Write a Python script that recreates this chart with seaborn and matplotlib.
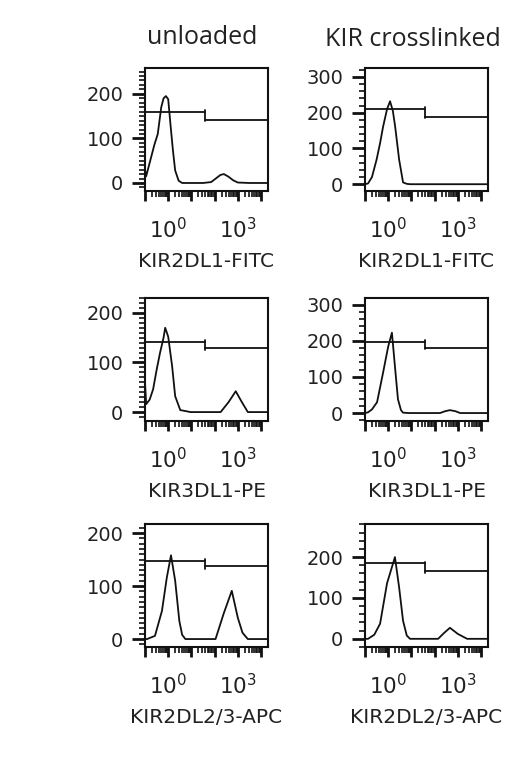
import numpy as np
import pandas as pd
import seaborn as sns
import matplotlib.pyplot as plt
from matplotlib.ticker import FixedLocator, NullFormatter, MultipleLocator

# column titles and marker names
conditions = ["unloaded", "KIR crosslinked"]
markers = ["KIR2DL1-FITC", "KIR3DL1-PE", "KIR2DL2/3-APC"]

# histogram curves: x in decades (log10), y = cell count
fitc_unl_x = [-1.0, -0.95, -0.8, -0.6, -0.45, -0.3, -0.2, -0.1, 0.0, 0.1, 0.2, 0.3, 0.45, 0.6, 1.0, 1.5, 1.85, 2.05, 2.25, 2.4, 2.6, 2.8, 3.0, 3.5, 4.3]
fitc_unl_y = [30, 15, 45, 85, 110, 170, 190, 195, 188, 130, 75, 28, 5, 0, 0, 0, 2, 10, 18, 20, 14, 6, 1, 0, 0]
fitc_xl_x = [-1.0, -0.87, -0.7, -0.5, -0.35, -0.22, -0.05, 0.08, 0.2, 0.3, 0.47, 0.64, 0.8, 0.94, 1.5, 2.5, 4.3]
fitc_xl_y = [0, 2, 20, 69, 115, 161, 210, 232, 205, 161, 69, 5, 1, 0, 0, 0, 0]
pe_unl_x = [-1.0, -0.95, -0.8, -0.65, -0.5, -0.35, -0.2, -0.13, 0.0, 0.17, 0.3, 0.52, 0.75, 0.96, 1.5, 2.26, 2.6, 2.91, 3.15, 3.43, 4.3]
pe_unl_y = [60, 16, 25, 46, 85, 120, 150, 170, 152, 92, 32, 4, 2, 0, 0, 0, 20, 42, 22, 0, 0]
pe_xl_x = [-1.0, -0.87, -0.7, -0.48, -0.22, 0.0, 0.16, 0.29, 0.42, 0.55, 0.64, 0.9, 1.5, 2.23, 2.45, 2.66, 2.9, 3.1, 4.3]
pe_xl_y = [0, 2, 10, 30, 112, 184, 222, 129, 38, 8, 1, 0, 0, 0, 5, 8, 5, 0, 0]
apc_unl_x = [-1.0, -0.91, -0.57, -0.27, -0.06, 0.12, 0.3, 0.48, 0.6, 0.74, 1.5, 2.04, 2.39, 2.74, 3.0, 3.2, 3.43, 4.3]
apc_unl_y = [0, 0, 6, 53, 116, 158, 110, 34, 8, 0, 0, 0, 48, 91, 40, 12, 0, 0]
apc_xl_x = [-1.0, -0.87, -0.6, -0.35, -0.05, 0.29, 0.47, 0.64, 0.8, 0.94, 1.5, 2.15, 2.4, 2.66, 3.0, 3.4, 4.3]
apc_xl_y = [0, 0, 10, 37, 136, 200, 126, 44, 8, 0, 0, 0, 14, 27, 12, 0, 0]

# marker gate heights (left region, right region)
gate_split = 1.6
gate_unl = [(160, 142), (142, 130), (147, 137)]
gate_xl = [(211, 189), (197, 181), (185, 165)]

# y ranges per panel
ylims_unl = [(-18, 258), (-18, 230), (-15, 217)]
ylims_xl = [(-19, 325), (-22, 318), (-20, 281)]

curves = {
    (0, 0): (fitc_unl_x, fitc_unl_y), (0, 1): (fitc_xl_x, fitc_xl_y),
    (1, 0): (pe_unl_x, pe_unl_y), (1, 1): (pe_xl_x, pe_xl_y),
    (2, 0): (apc_unl_x, apc_unl_y), (2, 1): (apc_xl_x, apc_xl_y),
}

sns.set_theme(style="ticks")
plt.rcParams['font.family'] = ['DejaVu Sans']
plt.rcParams['mathtext.default'] = 'regular'

fig = plt.figure(figsize=(5.2, 7.64), dpi=100)

lefts = [145 / 520, 365 / 520]
width = 123 / 520
tops = [68, 298, 524]
height = 123 / 764

for r in range(3):
    for c in range(2):
        ax = fig.add_axes([lefts[c], 1 - (tops[r] + 123) / 764, width, height])
        xs, ys = curves[(r, c)]
        df = pd.DataFrame({"x": 10 ** np.array(xs), "y": ys})
        sns.lineplot(data=df, x="x", y="y", ax=ax, color="#111111", linewidth=1.3)
        ax.set_xscale("log")
        ax.set_xlim(10 ** -1.0, 10 ** 4.3)
        ylim = ylims_unl[r] if c == 0 else ylims_xl[r]
        ax.set_ylim(*ylim)

        # gates
        g = gate_unl[r] if c == 0 else gate_xl[r]
        split = 10 ** gate_split
        ax.plot([10 ** -1.0, split], [g[0], g[0]], color="#111111", lw=1.3)
        ax.plot([split, 10 ** 4.3], [g[1], g[1]], color="#111111", lw=1.3)
        ax.plot([split, split], [g[0] + 4, g[1] - 4], color="#111111", lw=1.3)

        ax.set_xticks([0.1, 1, 10, 100, 1000, 10000])
        ax.set_xticklabels(["", "$10^0$", "", "", "$10^3$", ""])
        ax.xaxis.set_minor_locator(FixedLocator(
            [m * 10.0 ** d for d in range(-1, 5) for m in range(2, 10) if m * 10.0 ** d < 10 ** 4.3]))
        ax.xaxis.set_minor_formatter(NullFormatter())
        ax.yaxis.set_major_locator(MultipleLocator(100))
        ax.yaxis.set_minor_locator(MultipleLocator(10 if c == 0 else 20))

        ax.tick_params(axis="both", which="major", direction="out", width=2,
                       colors="#111111", labelcolor="#222222")
        ax.tick_params(axis="y", which="major", length=9.5, pad=6, labelsize=14)
        ax.tick_params(axis="x", which="major", length=7.5, pad=11, labelsize=15.5)
        ax.tick_params(axis="both", which="minor", direction="out", length=4.5, width=1.2, colors="#111111")
        for s in ax.spines.values():
            s.set_visible(True)
            s.set_linewidth(1.5)
            s.set_color("#111111")
        ax.set_ylabel("")
        ax.set_xlabel(markers[r], fontsize=14.5, labelpad=7, color="#222222")

fig.text(202 / 520, 1 - 37 / 764, conditions[0], ha="center", va="center",
         fontsize=18, family=["Open Sans", "DejaVu Sans"], color="#222222")
fig.text(413 / 520, 1 - 40 / 764, conditions[1], ha="center", va="center",
         fontsize=18, family=["Open Sans", "DejaVu Sans"], color="#222222")

fig.savefig("out.png", dpi=100, facecolor="white")
